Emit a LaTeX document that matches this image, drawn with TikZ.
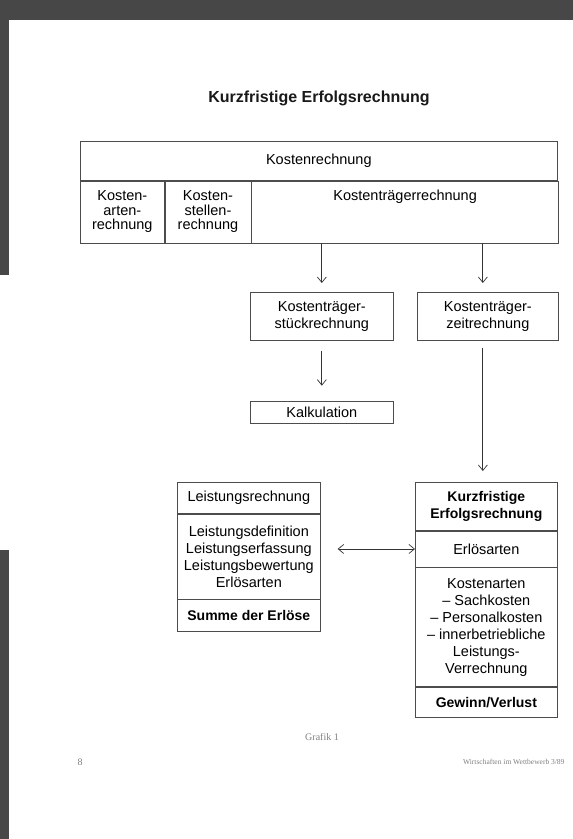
\documentclass[tikz,border=0pt]{standalone}
\usepackage{fontspec}
\setmainfont{Liberation Serif}
\setsansfont{Liberation Sans}
\usepackage{tikz}
\usetikzlibrary{calc, positioning, arrows.meta}
\tikzset{
    cell/.style={rectangle, draw=black!70, line width=0.65bp, inner sep=2bp, align=center, font=\sffamily\fontsize{14.5bp}{14.5bp}\selectfont},
    part/.style={rectangle, draw=black!70, line width=0.65bp, inner sep=2bp, align=center, minimum width=143bp, font=\sffamily\fontsize{14.5bp}{17bp}\selectfont},
    boldPart/.style={part, font=\sffamily\bfseries\fontsize{14bp}{17bp}\selectfont},
    arrow/.style={-{Straight Barb[length=5.5bp, width=9bp]}, line width=0.7bp, black!80},
    dblArrow/.style={{Straight Barb[length=5.5bp, width=9bp]}-{Straight Barb[length=5.5bp, width=9bp]}, line width=0.7bp, black!80},
    heading/.style={font=\sffamily\bfseries\fontsize{16bp}{19bp}\selectfont, text=black!90},
    caption/.style={font=\rmfamily\fontsize{10bp}{12bp}\selectfont, text=black!50},
    scan/.style={fill=black!72, draw=none}
}

\begin{document}
\begin{tikzpicture}[x=1bp, y=-1bp]
        \useasboundingbox (0,0) rectangle (573,839);
        \fill[white] (0,0) rectangle (573,839);

        % Scan edges
        \fill[scan] (0,0) rectangle (573,20);
        \fill[scan] (0,20) rectangle (9,275);
        \fill[scan] (0,550) rectangle (9,839);

        % Title
        \node[heading] (Title) at (319,98) {Kurzfristige Erfolgsrechnung};

        % Kostenrechnung
        \node[cell, minimum width=477bp, minimum height=39bp, anchor=north west] (KR) at (80,141) {Kostenrechnung};
        \node[cell, minimum width=84bp, minimum height=62bp, anchor=north west] (KA) at (KR.south west) {Kosten-\\arten-\\rechnung};
        \node[cell, minimum width=86bp, minimum height=62bp, anchor=north west] (KS) at (KA.north east) {Kosten-\\stellen-\\rechnung};
        \node[cell, minimum width=307bp, minimum height=62bp, anchor=north west] (KT) at (KS.north east) {};
        \node[cell, draw=none, anchor=base] (KTlabel) at ($(KT.north)+(0,20)$) {Kostenträgerrechnung};

        % Kostentraegerrechnung
        \node[part, minimum height=48bp, anchor=north west] (Stueck) at (250,292) {Kostenträger-\\stückrechnung};
        \node[part, minimum width=141bp, minimum height=48bp, anchor=north west] (Zeit) at (417,292) {Kostenträger-\\zeitrechnung};
        \node[part, minimum height=22bp, below=60bp of Stueck] (Kalk) {Kalkulation};

        % Leistungsrechnung
        \node[part, minimum height=31bp, anchor=north west] (LR) at (177,482) {Leistungsrechnung};
        \node[part, minimum height=85bp, below=0bp of LR] (LDef) {Leistungsdefinition\\Leistungserfassung\\Leistungsbewertung\\Erlösarten};
        \node[boldPart, minimum height=32bp, below=0bp of LDef] (Summe) {Summe der Erlöse};

        % Kurzfristige Erfolgsrechnung
        \node[boldPart, minimum width=142bp, minimum height=48bp, anchor=north west] (KE) at (415,482) {Kurzfristige\\Erfolgsrechnung};
        \node[part, minimum width=142bp, minimum height=36bp, below=0bp of KE] (Erl) {Erlösarten};
        \node[part, minimum width=142bp, minimum height=119bp, below=0bp of Erl] (KArt) {Kostenarten\\– Sachkosten\\– Personalkosten\\– innerbetriebliche\\Leistungs-\\Verrechnung};
        \node[boldPart, minimum width=142bp, minimum height=30bp, below=0bp of KArt] (GV) {Gewinn/Verlust};

        % Connections
        \draw[arrow, shorten >=9bp] (Stueck.north |- KT.south) -- (Stueck.north);
        \draw[arrow, shorten >=9bp] ([xshift=-5bp]Zeit.north |- KT.south) -- ([xshift=-5bp]Zeit.north);
        \draw[arrow, shorten <=10bp, shorten >=15bp] (Stueck) -- (Kalk);
        \draw[arrow, shorten <=7bp, shorten >=11bp] ([xshift=-5bp]Zeit.south) -- ([xshift=-5bp]Zeit.south |- KE.north);
        \draw[dblArrow, shorten >=17bp] (Erl.west) -- (Erl.west -| LDef.east);

        % Footer
        \node[caption] (Grafik) at (322,737) {Grafik 1};
        \node[caption] (PageNo) at (80,762) {8};
        \node[caption, font=\rmfamily\fontsize{7.5bp}{9bp}\selectfont, anchor=east] (Source) at (568,762) {Wirtschaften im Wettbewerb 3/89};

    \end{tikzpicture}
\end{document}
